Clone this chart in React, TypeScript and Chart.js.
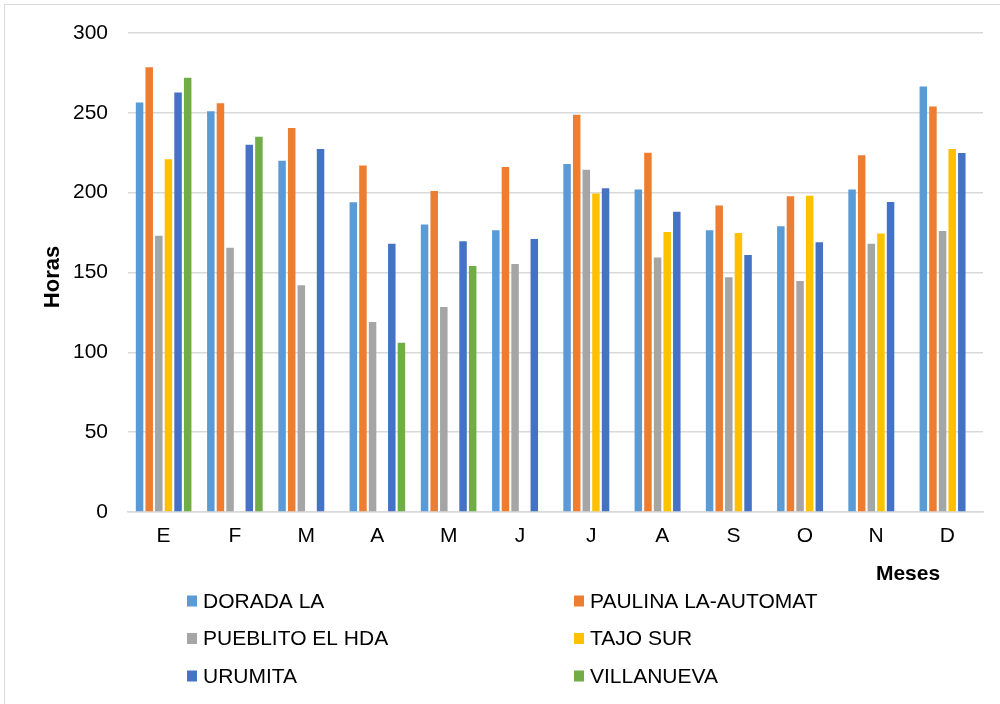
import React, { useEffect, useRef } from "react";
import { Chart, registerables } from "chart.js";

Chart.register(...registerables);

// Monthly hours per station
const months = ["E", "F", "M", "A", "M", "J", "J", "A", "S", "O", "N", "D"];
const doradaLa = [256.5, 251, 220, 194, 180, 176.5, 218, 202, 176.5, 179, 202, 266.5];
const paulinaLaAutomat = [278.5, 256, 240.5, 217, 201, 216, 248.8, 225, 192, 197.7, 223.4, 254];
const pueblitoElHda = [173, 165.5, 142, 119, 128.4, 155.4, 214.4, 159.4, 147, 144.6, 168, 176];
const tajoSur = [221, null, null, null, null, null, 199.5, 175.4, 174.8, 198, 174.4, 227.3];
const urumita = [262.7, 230, 227.3, 168, 169.6, 171, 202.7, 188, 161, 169, 194.2, 224.8];
const villanueva = [272, 235, null, 106, 154, null, null, null, null, null, null, null];

const seriesNames = ["DORADA LA", "PAULINA LA-AUTOMAT", "PUEBLITO EL HDA", "TAJO SUR", "URUMITA", "VILLANUEVA"];
const seriesValues = [doradaLa, paulinaLaAutomat, pueblitoElHda, tajoSur, urumita, villanueva];
const seriesColors = ["#5B9BD5", "#ED7D31", "#A5A5A5", "#FFC000", "#4472C4", "#70AD47"];

const yTicks = [0, 50, 100, 150, 200, 250, 300];
const yTitle = "Horas";
const xTitle = "Meses";

const FONT = '"Liberation Sans", Arial, Helvetica, sans-serif';

// Draws the outer frame, axis titles and the two-column legend
const decorations = {
  id: "decorations",
  afterDraw(chart: any) {
    const { ctx } = chart;
    ctx.save();
    ctx.strokeStyle = "#d9d9d9";
    ctx.lineWidth = 1;
    ctx.strokeRect(4.5, 4.5, 1020, 730);

    ctx.fillStyle = "#000";
    ctx.textBaseline = "middle";

    ctx.save();
    ctx.font = `bold 22px ${FONT}`;
    ctx.translate(53, 277);
    ctx.rotate(-Math.PI / 2);
    ctx.textAlign = "center";
    ctx.fillText(yTitle, 0, 0);
    ctx.restore();

    ctx.font = `bold 21px ${FONT}`;
    ctx.textAlign = "center";
    ctx.fillText(xTitle, 908, 574);

    ctx.font = `21px ${FONT}`;
    ctx.textAlign = "left";
    const colX = [187, 574];
    const rowY = [601, 638.5, 676];
    chart.data.datasets.forEach((ds: any, i: number) => {
      const x = colX[i % 2];
      const y = rowY[Math.floor(i / 2)];
      ctx.fillStyle = ds.backgroundColor;
      ctx.fillRect(x, y - 5.5, 10, 11);
      ctx.fillStyle = "#000";
      ctx.fillText(ds.label, x + 16, y + 1);
    });
    ctx.restore();
  },
};

export default function App() {
  const canvasRef = useRef<HTMLCanvasElement | null>(null);

  useEffect(() => {
    if (!canvasRef.current) return;
    const chart = new Chart(canvasRef.current, {
      type: "bar",
      data: {
        labels: months,
        datasets: seriesNames.map((name, i) => ({
          label: name,
          data: seriesValues[i],
          backgroundColor: seriesColors[i],
          borderWidth: 0,
          categoryPercentage: 0.81,
          barPercentage: 0.78,
        })),
      },
      options: {
        responsive: false,
        animation: false,
        devicePixelRatio: 1,
        layout: { padding: { left: 0, top: 33, right: 17, bottom: 0 } },
        plugins: {
          legend: { display: false },
          tooltip: { enabled: false },
          title: { display: false },
        },
        scales: {
          x: {
            grid: { display: false, drawTicks: false },
            border: { display: true, color: "#d9d9d9", width: 1.5 },
            ticks: { color: "#000", font: { family: FONT, size: 21 }, padding: 12 },
            afterFit: (scale: any) => {
              scale.height = 192;
            },
          },
          y: {
            min: 0,
            max: 300,
            afterBuildTicks: (scale: any) => {
              scale.ticks = yTicks.map((v) => ({ value: v }));
            },
            grid: { color: "#d9d9d9", lineWidth: 1.5, drawTicks: false },
            border: { display: false },
            ticks: { color: "#000", font: { family: FONT, size: 21 }, padding: 20 },
            afterFit: (scale: any) => {
              scale.width = 128;
            },
          },
        },
      },
      plugins: [decorations],
    });
    return () => chart.destroy();
  }, []);

  return (
    <div style={{ position: "absolute", left: 0, top: 0, width: 1000, height: 704, background: "#fff" }}>
      <canvas ref={canvasRef} width={1000} height={704} />
    </div>
  );
}
